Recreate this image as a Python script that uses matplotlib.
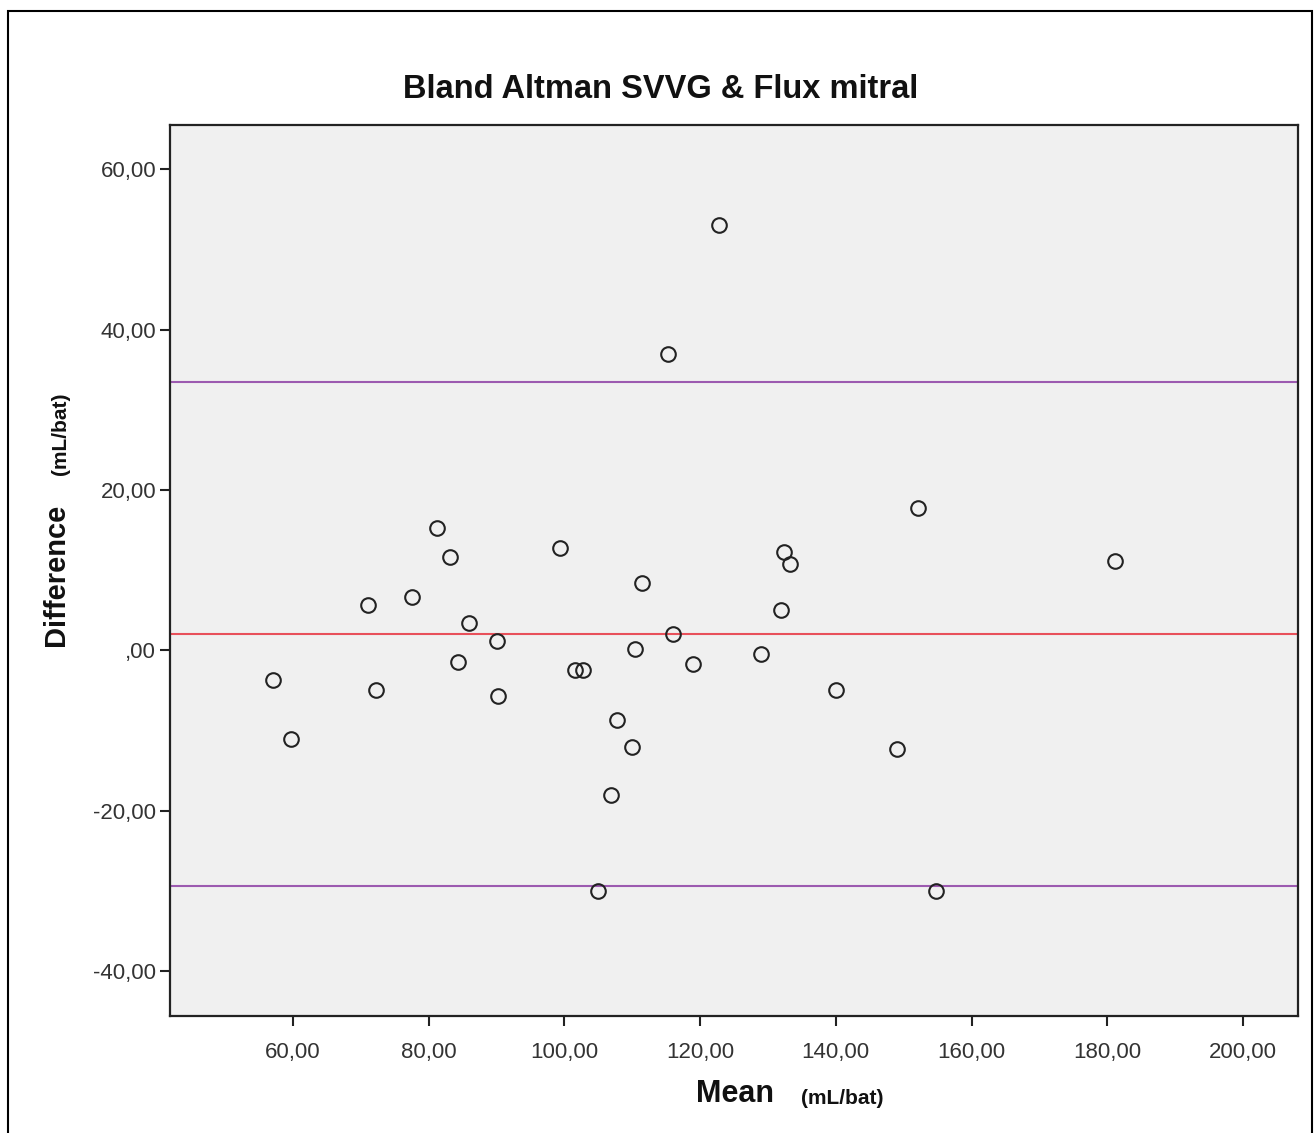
import matplotlib.pyplot as plt
from matplotlib.patches import Rectangle

# Données Bland-Altman (moyenne, différence) en mL/bat
moyenne = [57.1, 59.7, 71.0, 72.2, 77.6, 81.3, 83.2, 84.3, 85.9, 90.1, 90.3,
           99.3, 101.6, 102.8, 104.9, 106.9, 107.8, 109.9, 110.4, 111.5,
           115.3, 116.0, 119.0, 122.8, 129.0, 131.9, 132.4, 133.2, 140.1,
           149.0, 152.1, 154.7, 181.2]
difference = [-3.7, -11.1, 5.6, -4.9, 6.6, 15.2, 11.6, -1.4, 3.4, 1.1, -5.7,
              12.7, -2.4, -2.4, -30.0, -18.0, -8.7, -12.0, 0.1, 8.4,
              37.0, 2.0, -1.7, 53.0, -0.4, 5.0, 12.2, 10.8, -4.9,
              -12.3, 17.8, -30.0, 11.1]
biais      = 2.0
limite_sup = 33.4
limite_inf = -29.4

x_ticks = [60, 80, 100, 120, 140, 160, 180, 200]
y_ticks = [-40, -20, 0, 20, 40, 60]


def fmt(v):
    if v == 0:
        return ",00"
    return f"{v:.2f}".replace(".", ",")


plt.rcParams["font.family"] = ["Liberation Sans", "DejaVu Sans"]

fig = plt.figure(figsize=(13.14, 11.33), dpi=100)
W, H = 1314, 1133
ax = fig.add_axes([170 / W, 1 - 1016 / H, (1298 - 170) / W, (1016 - 125) / H])
ax.set_facecolor("#f0f0f0")

# Lignes de biais et limites d'agrément
ax.axhline(limite_sup, color="#9c5ab0", lw=1.5, zorder=1)
ax.axhline(biais, color="#e8505a", lw=1.5, zorder=1)
ax.axhline(limite_inf, color="#9c5ab0", lw=1.5, zorder=1)

ax.plot(moyenne, difference, "o", ms=10.5, mfc="none", mec="#222222",
        mew=1.5, zorder=3)

ax.set_xlim(41.9, 208.1)
ax.set_ylim(-45.6, 65.5)
ax.set_xticks(x_ticks)
ax.set_xticklabels([fmt(v) for v in x_ticks])
ax.set_yticks(y_ticks)
ax.set_yticklabels([fmt(v) for v in y_ticks])
ax.tick_params(length=7, width=1.5, labelsize=16, colors="#222222",
               labelcolor="#333333", pad=3)
ax.tick_params(axis="x", pad=12)
for s in ax.spines.values():
    s.set_linewidth(1.6)
    s.set_color("#222222")

# Titre et libellés
fig.text(661 / W, 1 - 89 / H, "Bland Altman SVVG & Flux mitral",
         ha="center", va="center", fontsize=23.5, fontweight="bold", color="#111111")
fig.text(735 / W, 1 - 1102 / H, "Mean", ha="center", va="baseline",
         fontsize=22, fontweight="bold", color="#111111")
fig.text(842 / W, 1 - 1104 / H, "(mL/bat)", ha="center", va="baseline",
         fontsize=15, fontweight="bold", color="#111111")
fig.text(64 / W, 1 - 575 / H, "Difference", ha="center", va="baseline",
         rotation=90, rotation_mode="anchor",
         fontsize=21, fontweight="bold", color="#111111")
fig.text(66 / W, 1 - 434 / H, "(mL/bat)", ha="center", va="baseline",
         rotation=90, rotation_mode="anchor",
         fontsize=15, fontweight="bold", color="#111111")

# Cadre extérieur
fig.patches.append(Rectangle((8 / W, -0.01), (1312 - 8) / W, 1 - 11 / H + 0.01,
                             transform=fig.transFigure, fill=False,
                             edgecolor="black", lw=1.5))

fig.savefig("out.png", dpi=100)
